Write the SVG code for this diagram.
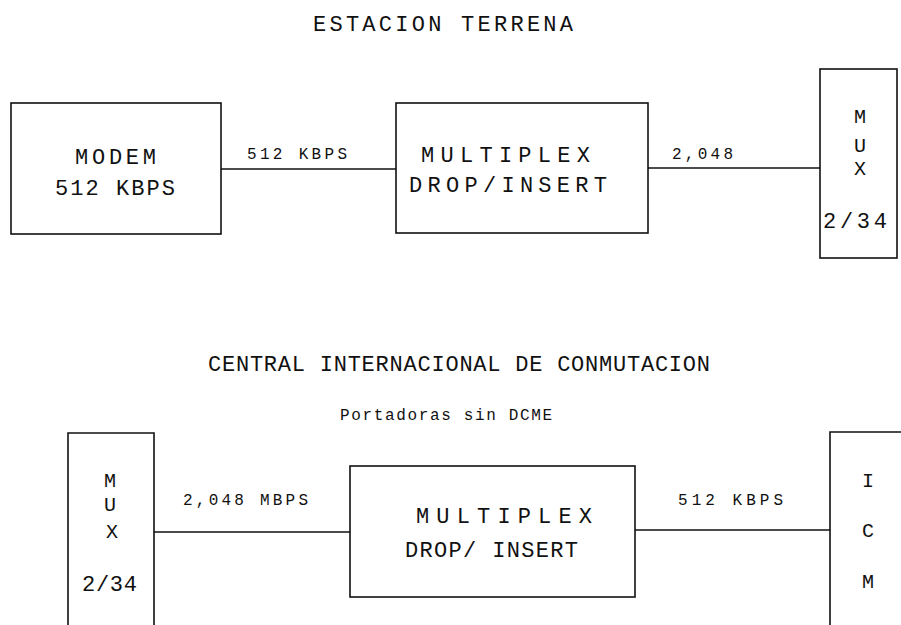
<svg xmlns="http://www.w3.org/2000/svg" width="901" height="625" viewBox="0 0 901 625">
<style>
.box{fill:none;stroke:#111;stroke-width:1.6}
.ln{stroke:#111;stroke-width:1.6;fill:none}
text{font-family:"Liberation Mono","Courier New",monospace;fill:#111}
.big{font-size:22px}
.sm{font-size:16px}
.let{font-size:20px;text-anchor:middle}
</style>
<rect width="901" height="625" fill="#fff"/>
<text class="big" x="313" y="31" textLength="260" lengthAdjust="spacing">ESTACION TERRENA</text>
<text class="big" x="208" y="371" textLength="502" lengthAdjust="spacing">CENTRAL INTERNACIONAL DE CONMUTACION</text>
<text class="sm" x="340" y="420" textLength="212" lengthAdjust="spacing">Portadoras sin DCME</text>
<g id="connectors">
<line class="ln" x1="221" y1="169" x2="396" y2="169"/>
<line class="ln" x1="648" y1="168" x2="820" y2="168"/>
<line class="ln" x1="154" y1="532" x2="350" y2="532"/>
<line class="ln" x1="635" y1="530" x2="830" y2="530"/>
<text class="sm" x="247" y="159" textLength="100" lengthAdjust="spacing">512 KBPS</text>
<text class="sm" x="672" y="159" textLength="61" lengthAdjust="spacing">2,048</text>
<text class="sm" x="183" y="505" textLength="125" lengthAdjust="spacing">2,048 MBPS</text>
<text class="sm" x="678" y="505" textLength="105" lengthAdjust="spacing">512 KBPS</text>
</g>
<g id="modem">
<rect class="box" x="11" y="103" width="210" height="131"/>
<text class="big" x="75" y="164" textLength="81" lengthAdjust="spacing">MODEM</text>
<text class="big" x="55" y="195" textLength="120" lengthAdjust="spacing">512 KBPS</text>
</g>
<g id="mux-top-dropinsert">
<rect class="box" x="396" y="103" width="252" height="130"/>
<text class="big" x="421" y="162" textLength="169" lengthAdjust="spacing">MULTIPLEX</text>
<text class="big" x="409" y="192" textLength="198" lengthAdjust="spacing">DROP/INSERT</text>
</g>
<g id="mux-top">
<rect class="box" x="820" y="69" width="77" height="189"/>
<text class="let" x="860" y="123">M</text>
<text class="let" x="860" y="152">U</text>
<text class="let" x="860" y="175">X</text>
<text class="big" x="823" y="228" textLength="64" lengthAdjust="spacing">2/34</text>
</g>
<g id="mux-bottom">
<path class="ln" d="M68,625 V433 H154 V625"/>
<text class="let" x="110" y="487">M</text>
<text class="let" x="110" y="511">U</text>
<text class="let" x="112" y="538">X</text>
<text class="big" x="82" y="591" textLength="55" lengthAdjust="spacing">2/34</text>
</g>
<g id="bottom-dropinsert">
<rect class="box" x="350" y="466" width="285" height="131"/>
<text class="big" x="416" y="523" textLength="176" lengthAdjust="spacing">MULTIPLEX</text>
<text class="big" x="405" y="557" textLength="173" lengthAdjust="spacing">DROP/ INSERT</text>
</g>
<g id="icm">
<path class="ln" d="M830,625 V432 H901"/>
<text class="let" x="868" y="487">I</text>
<text class="let" x="868" y="537">C</text>
<text class="let" x="868" y="588">M</text>
</g>
</svg>
